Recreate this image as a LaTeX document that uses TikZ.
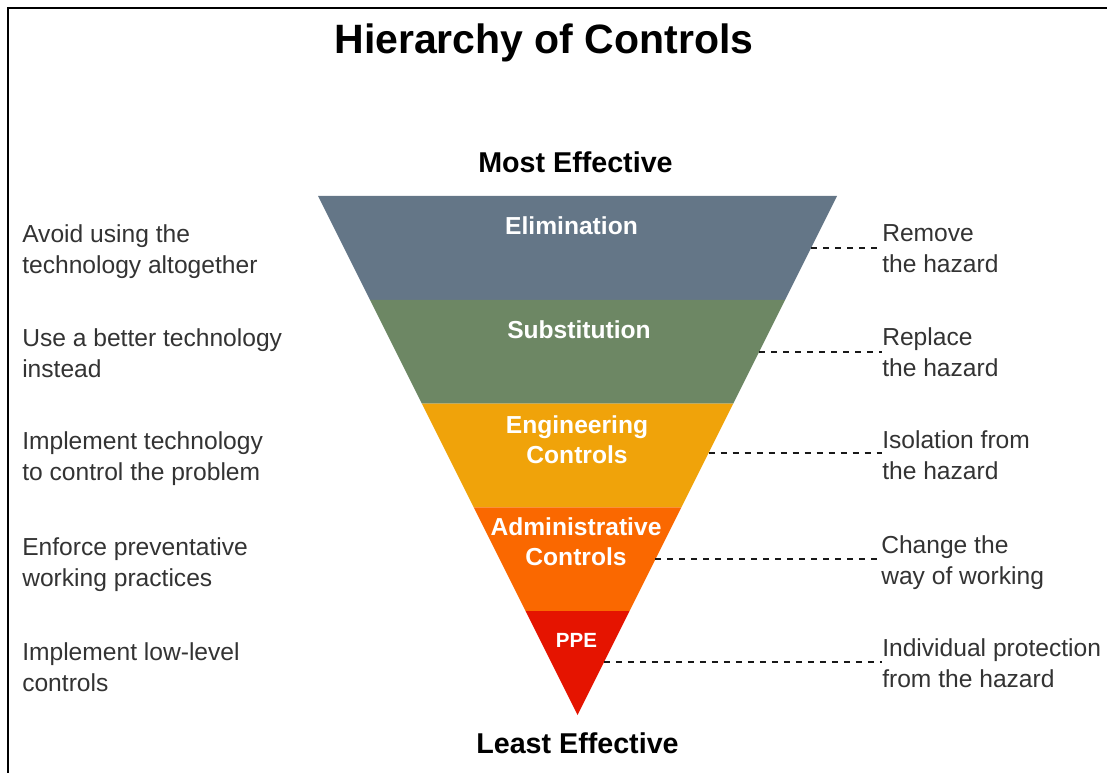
\documentclass[tikz,border=0pt]{standalone}
\usepackage{fontspec}
\setmainfont{Liberation Sans}
\usetikzlibrary{calc}
\definecolor{elimgray}{HTML}{647687}
\definecolor{substgreen}{HTML}{6D8764}
\definecolor{engamber}{HTML}{F0A30A}
\definecolor{admorange}{HTML}{FA6800}
\definecolor{ppered}{HTML}{E51400}
\definecolor{textgray}{HTML}{333333}

\begin{document}
\begin{tikzpicture}[x=0.75pt, y=-0.75pt,
    bandlabel/.style={anchor=north, inner sep=0pt, white, align=center, font=\fontsize{18.45}{22.5}\selectfont\bfseries},
    sidetext/.style={anchor=north west, inner sep=0pt, textgray, align=left, font=\fontsize{18.45}{23.25}\selectfont},
    endlabel/.style={anchor=base, inner sep=0pt, black, font=\fontsize{21.5}{25}\selectfont\bfseries},
    leader/.style={draw=black!90, line width=1.4pt, dash pattern=on 4.5pt off 4.5pt}]
  \useasboundingbox (0,0) rectangle (1107,773);
  \draw[line width=1.5pt] (8,773) -- (8,8) -- (1107,8);

  \coordinate (tl) at (318,196);
  \coordinate (tr) at (837,196);
  \coordinate (apex) at (577.5,715);

  \fill[elimgray] (tl) -- (tr) -- ($(tr)!0.2!(apex)$) -- ($(tl)!0.2!(apex)$) -- cycle;
  \fill[substgreen] ($(tl)!0.2!(apex)$) -- ($(tr)!0.2!(apex)$) -- ($(tr)!0.4!(apex)$) -- ($(tl)!0.4!(apex)$) -- cycle;
  \fill[engamber] ($(tl)!0.4!(apex)$) -- ($(tr)!0.4!(apex)$) -- ($(tr)!0.6!(apex)$) -- ($(tl)!0.6!(apex)$) -- cycle;
  \fill[admorange] ($(tl)!0.6!(apex)$) -- ($(tr)!0.6!(apex)$) -- ($(tr)!0.8!(apex)$) -- ($(tl)!0.8!(apex)$) -- cycle;
  \fill[ppered] ($(tl)!0.8!(apex)$) -- ($(tr)!0.8!(apex)$) -- (apex) -- cycle;

  \node[anchor=base, inner sep=0pt, font=\fontsize{30.75}{36}\selectfont\bfseries] (title) at (544,54) {Hierarchy of Controls};
  \node[endlabel] (most) at (575.5,173) {Most Effective};
  \node[endlabel] (least) at (577.5,753) {Least Effective};

  \node[bandlabel] (elim) at (571.5,216) {Elimination};
  \node[bandlabel] (subst) at (579,320) {Substitution};
  \node[bandlabel] (eng) at (577,415) {Engineering\\Controls};
  \node[bandlabel] (adm) at (576,517) {Administrative\\Controls};
  \node[bandlabel, font=\fontsize{15.4}{18}\selectfont\bfseries] (ppe) at (576.5,633) {PPE};

  \node[sidetext] (lelim) at (22,224) {Avoid using the\\technology altogether};
  \node[sidetext] (lsubst) at (22,328) {Use a better technology\\instead};
  \node[sidetext] (leng) at (22,431) {Implement technology\\to control the problem};
  \node[sidetext] (ladm) at (22,537) {Enforce preventative\\working practices};
  \node[sidetext] (lppe) at (22,642) {Implement low-level\\controls};

  \node[sidetext] (relim) at (882,224) {Remove\\the hazard};
  \node[sidetext] (rsubst) at (882,327) {Replace\\the hazard};
  \node[sidetext] (reng) at (882,430) {Isolation from\\the hazard};
  \node[sidetext] (radm) at (881,535) {Change the\\way of working};
  \node[sidetext] (rppe) at (882,638) {Individual protection\\from the hazard};

  \coordinate (celim) at ($(tr)!0.1!(apex)$);
  \coordinate (csubst) at ($(tr)!0.3!(apex)$);
  \coordinate (ceng) at ($(tr)!0.495!(apex)$);
  \coordinate (cadm) at ($(tr)!0.7!(apex)$);
  \coordinate (cppe) at ($(tr)!0.898!(apex)$);

  \draw[leader] (celim) -- (celim -| relim.west);
  \draw[leader] (csubst) -- (csubst -| rsubst.west);
  \draw[leader] (ceng) -- (ceng -| reng.west);
  \draw[leader] (cadm) -- (cadm -| radm.west);
  \draw[leader] (cppe) -- (cppe -| rppe.west);
\end{tikzpicture}
\end{document}
